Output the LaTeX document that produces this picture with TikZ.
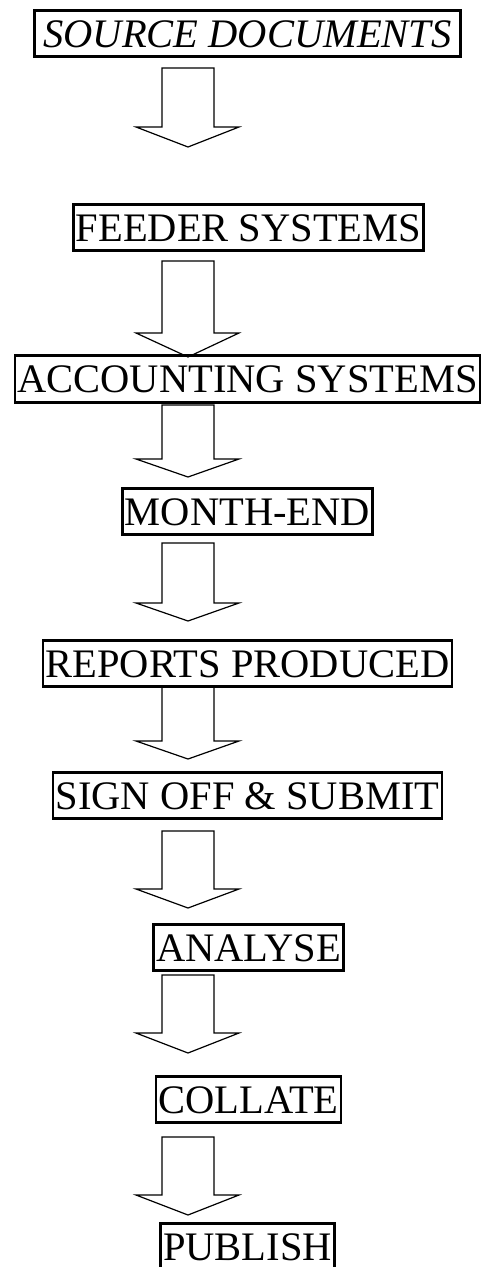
\documentclass[tikz,border=0pt]{standalone}
\usepackage{fontspec}
\setmainfont{Liberation Serif}
\usepackage{tikz}

\tikzset{
  stage/.style={draw, line width=2.7pt, inner xsep=2.5pt, inner ysep=0pt,
    minimum height=46.5pt, text height=27pt, text depth=0pt,
    font=\fontsize{40.5}{46}\selectfont},
  blockarrow/.style={line width=1.2pt, line join=miter}
}

\begin{document}
\begin{tikzpicture}[x=1pt, y=-1pt]
\useasboundingbox (0,0) rectangle (485,1267);
% stages
\node[stage, minimum width=426pt] (source) at (247.5,33.5) {\itshape SOURCE DOCUMENTS};
\node[stage] (feeder) at (248.5,227.5) {FEEDER SYSTEMS};
\node[stage] (accounting) at (247.5,379) {ACCOUNTING SYSTEMS};
\node[stage] (monthend) at (247.5,511.5) {MONTH-END};
\node[stage] (reports) at (247.5,663.5) {REPORTS PRODUCED};
\node[stage] (signoff) at (247.5,795.5) {SIGN OFF \& SUBMIT};
\node[stage] (analyse) at (248.5,947.5) {ANALYSE};
\node[stage] (collate) at (248.5,1099.5) {COLLATE};
\node[stage] (publish) at (247.5,1247) {PUBLISH};
% block arrows: top / shoulder / tip
\foreach \t/\s/\e in {68/127/147, 261/333/357, 405/459/477, 543/603/621,
    687/741/759, 831/889/908, 975/1033/1053, 1137/1195/1215}
  \draw[blockarrow] (162,\t) -- (214,\t) -- (214,\s) -- (239,\s) -- (188,\e)
    -- (136,\s) -- (162,\s) -- cycle;
\end{tikzpicture}
\end{document}
